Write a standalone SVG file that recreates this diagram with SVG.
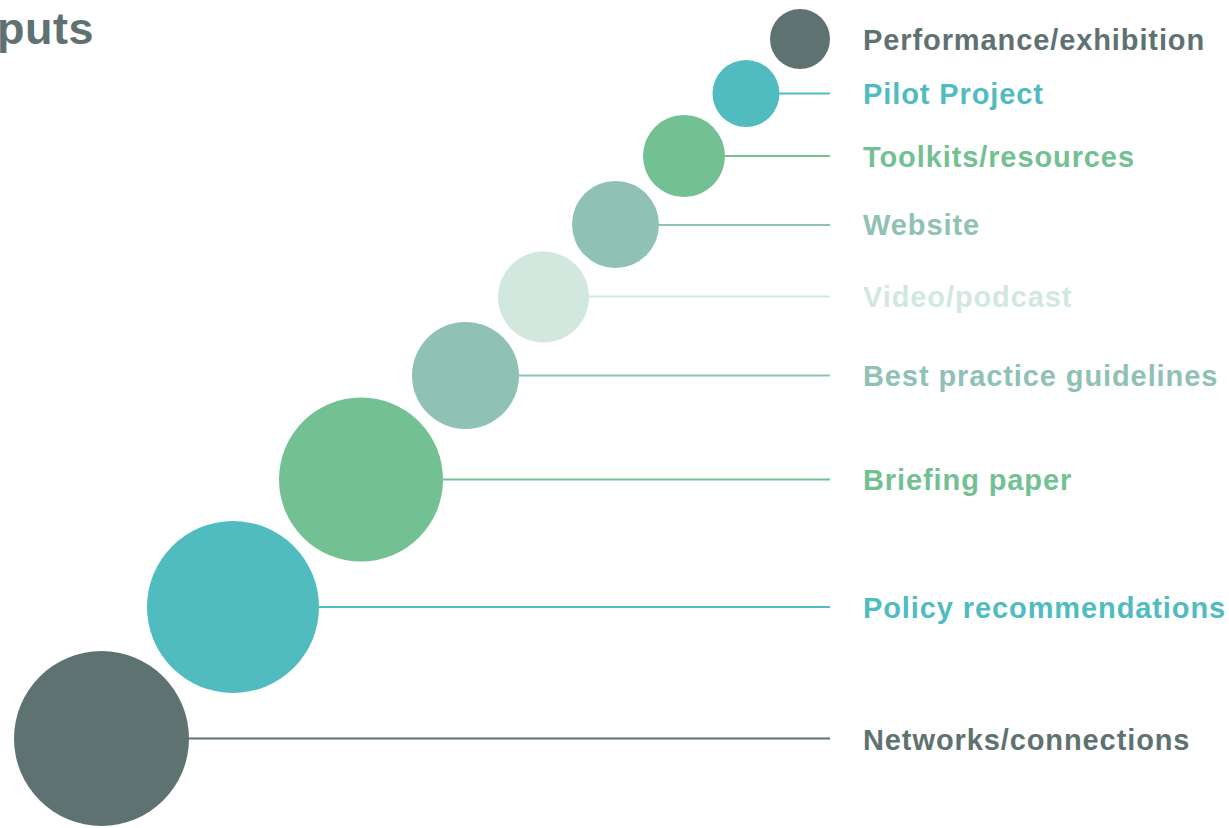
<svg xmlns="http://www.w3.org/2000/svg" width="1229" height="828" viewBox="0 0 1229 828">
<style>
text{font-family:"Liberation Sans",Arial,sans-serif;font-weight:bold}
.lbl{font-size:29px;letter-spacing:0.9px}
.dk{fill:#5f7272}.tl{fill:#50bcbf}.gr{fill:#73c092}.sg{fill:#8fc1b4}.pl{fill:#d2e8df}
.ldk{stroke:#5f7272}.ltl{stroke:#50bcbf}.lgr{stroke:#73c092}.lsg{stroke:#8fc1b4}.lpl{stroke:#d2e8df}
line{stroke-width:2.2}
</style>
<rect width="1229" height="828" fill="#ffffff"/>
<text x="-3" y="44" class="dk" style="font-size:45px;letter-spacing:0.5px">puts</text>
<g id="connectors">
<line x1="779" y1="93.5" x2="830" y2="93.5" class="ltl"/>
<line x1="725" y1="156" x2="830" y2="156" class="lgr"/>
<line x1="659" y1="225" x2="830" y2="225" class="lsg"/>
<line x1="589" y1="296.5" x2="830" y2="296.5" class="lpl"/>
<line x1="518" y1="375.5" x2="830" y2="375.5" class="lsg"/>
<line x1="443" y1="479.5" x2="830" y2="479.5" class="lgr"/>
<line x1="319" y1="607" x2="830" y2="607" class="ltl"/>
<line x1="189" y1="738.5" x2="830" y2="738.5" class="ldk"/>
</g>
<g id="n-performance"><circle cx="800" cy="39" r="30" class="dk"/><text x="863" y="50" class="lbl dk">Performance/exhibition</text></g>
<g id="n-pilot"><circle cx="746" cy="93.5" r="33.5" class="tl"/><text x="863" y="104" class="lbl tl">Pilot Project</text></g>
<g id="n-toolkits"><circle cx="684" cy="156" r="41" class="gr"/><text x="863" y="167" class="lbl gr">Toolkits/resources</text></g>
<g id="n-website"><circle cx="615.5" cy="224.5" r="43.5" class="sg"/><text x="863" y="235" class="lbl sg">Website</text></g>
<g id="n-video"><circle cx="543.5" cy="297" r="45.5" class="pl"/><text x="863" y="307" class="lbl pl">Video/podcast</text></g>
<g id="n-best"><circle cx="465.5" cy="375.5" r="53.5" class="sg"/><text x="863" y="386" class="lbl sg">Best practice guidelines</text></g>
<g id="n-briefing"><circle cx="361" cy="479.5" r="82" class="gr"/><text x="863" y="490" class="lbl gr">Briefing paper</text></g>
<g id="n-policy"><circle cx="233" cy="607" r="86" class="tl"/><text x="863" y="618" class="lbl tl">Policy recommendations</text></g>
<g id="n-networks"><circle cx="101.5" cy="738.5" r="87.5" class="dk"/><text x="863" y="750" class="lbl dk">Networks/connections</text></g>
</svg>
